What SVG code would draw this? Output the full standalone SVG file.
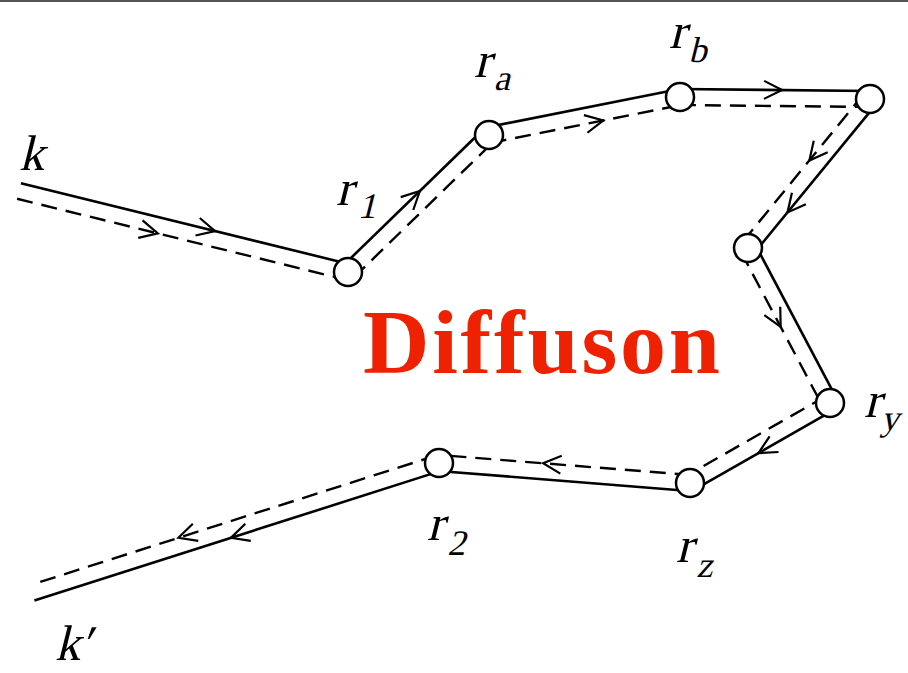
<svg xmlns="http://www.w3.org/2000/svg" width="908" height="673" viewBox="0 0 908 673">
<style>
.s{stroke:#000;stroke-width:2.6;fill:none}
.d{stroke:#000;stroke-width:2.4;fill:none;stroke-dasharray:16 9}
.a{stroke:#000;stroke-width:2.2;fill:none;stroke-linejoin:miter}
.n{fill:#fff;stroke:#000;stroke-width:2.5}
.lb{font-family:"Liberation Serif","Times New Roman",serif;font-size:50px;fill:#000}
.sb{font-size:36px}
.t{font-family:"Liberation Serif","Times New Roman",serif;font-weight:bold;font-size:92px;fill:#EE2200}
</style>
<defs>
<path id="ar" class="a" d="M-18,-9 L0,0 L-18,9"/>
</defs>
<rect x="0" y="0" width="908" height="2" fill="#555"/>
<g id="connectors">
<g transform="translate(19,191) rotate(13.83)">
<line class="s" x1="0" y1="-8" x2="338.8" y2="-8"/>
<line class="d" x1="0" y1="8" x2="338.8" y2="8"/>
<use href="#ar" x="200" y="-8"/>
<use href="#ar" x="145" y="8"/>
</g>
<g transform="translate(348,272) rotate(-44.18)">
<line class="s" x1="0" y1="-8" x2="196.6" y2="-8"/>
<line class="d" x1="0" y1="8" x2="196.6" y2="8"/>
<use href="#ar" x="108" y="-8"/>
</g>
<g transform="translate(489,135) rotate(-11.25)">
<line class="s" x1="0" y1="-8" x2="194.7" y2="-8"/>
<line class="d" x1="0" y1="8" x2="194.7" y2="8"/>
<use href="#ar" x="115" y="8"/>
</g>
<g transform="translate(680,97) rotate(0.6)">
<line class="s" x1="0" y1="-8" x2="190" y2="-8"/>
<line class="d" x1="0" y1="8" x2="190" y2="8"/>
<use href="#ar" x="102" y="-8"/>
</g>
<g transform="translate(870,99) rotate(129.31)">
<line class="s" x1="0" y1="-8" x2="192.6" y2="-8"/>
<line class="d" x1="0" y1="8" x2="192.6" y2="8"/>
<use href="#ar" x="140" y="-8"/>
<use href="#ar" x="86" y="8"/>
</g>
<g transform="translate(748,248) rotate(62.12)">
<line class="s" x1="0" y1="-8" x2="175.4" y2="-8"/>
<line class="d" x1="0" y1="8" x2="175.4" y2="8"/>
<use href="#ar" x="85" y="8"/>
</g>
<g transform="translate(830,403) rotate(150.26)">
<line class="s" x1="0" y1="-8" x2="161.2" y2="-8"/>
<line class="d" x1="0" y1="8" x2="161.2" y2="8"/>
<use href="#ar" x="87" y="-8"/>
</g>
<g transform="translate(690,483) rotate(184.56)">
<line class="s" x1="0" y1="-8" x2="251.8" y2="-8"/>
<line class="d" x1="0" y1="8" x2="251.8" y2="8"/>
<use href="#ar" x="148" y="8"/>
</g>
<g transform="translate(439,463) rotate(162.29)">
<line class="s" x1="0" y1="-8" x2="427.3" y2="-8"/>
<line class="d" x1="0" y1="8" x2="425" y2="8"/>
<use href="#ar" x="221" y="-8"/>
<use href="#ar" x="271" y="8"/>
</g>
</g>
<g id="k"><g transform="translate(19,170) skewX(-14)"><text class="lb" x="0" y="0">k</text></g></g>
<g id="r1"><circle class="n" cx="348" cy="272" r="14"/><g transform="translate(336,205) skewX(-14)"><text class="lb" x="0" y="0">r<tspan class="sb" x="25" y="13">1</tspan></text></g></g>
<g id="ra"><circle class="n" cx="489" cy="135" r="14"/><g transform="translate(474,77) skewX(-14)"><text class="lb" x="0" y="0">r<tspan class="sb" x="23" y="13">a</tspan></text></g></g>
<g id="rb"><circle class="n" cx="680" cy="97" r="14"/><g transform="translate(669,48) skewX(-14)"><text class="lb" x="0" y="0">r<tspan class="sb" x="23" y="14">b</tspan></text></g></g>
<g id="n_corner"><circle class="n" cx="870" cy="99" r="14"/></g>
<g id="n_mid"><circle class="n" cx="748" cy="248" r="14"/></g>
<g id="ry"><circle class="n" cx="830" cy="403" r="14"/><g transform="translate(864,417) skewX(-14)"><text class="lb" x="0" y="0">r<tspan class="sb" x="20" y="13">y</tspan></text></g></g>
<g id="rz"><circle class="n" cx="690" cy="483" r="14"/><g transform="translate(676,562) skewX(-14)"><text class="lb" x="0" y="0">r<tspan class="sb" x="24" y="15">z</tspan></text></g></g>
<g id="r2"><circle class="n" cx="439" cy="463" r="14"/><g transform="translate(427,540) skewX(-14)"><text class="lb" x="0" y="0">r<tspan class="sb" x="24" y="15">2</tspan></text></g></g>
<g id="kp"><g transform="translate(55,660) skewX(-14)"><text class="lb" x="0" y="0">k′</text></g></g>
<g id="title"><text class="t" x="363" y="373" textLength="357" lengthAdjust="spacing">Diffuson</text></g>
</svg>
